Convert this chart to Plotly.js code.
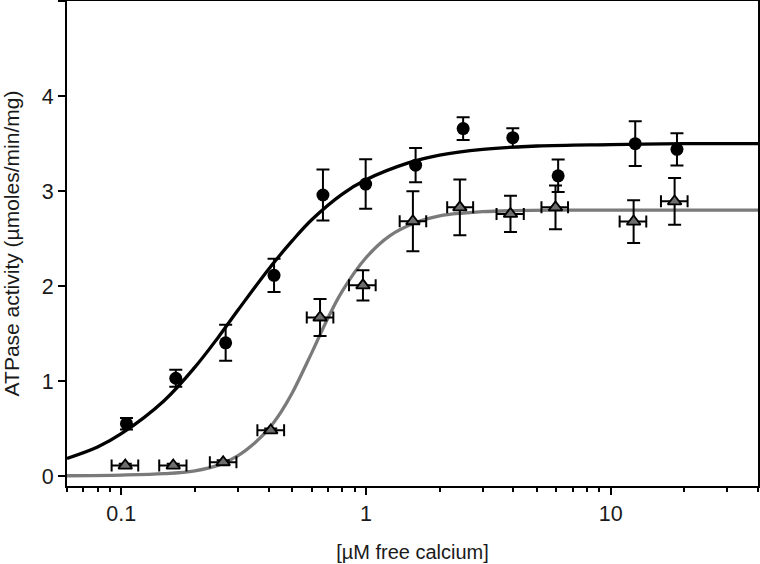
<!DOCTYPE html>
<html>
<head>
<meta charset="utf-8">
<script src="https://cdn.plot.ly/plotly-3.0.1.min.js"></script>
<style>html,body{margin:0;padding:0;background:#fff;}#chart{width:760px;height:564px;}</style>
</head>
<body>
<div id="chart"></div>
<script>
// Black circles (control)
var circX = [0.105, 0.167, 0.267, 0.421, 0.667, 0.997, 1.595, 2.495, 3.98, 6.10, 12.6, 18.66];
var circY = [0.555, 1.033, 1.406, 2.115, 2.96, 3.075, 3.274, 3.658, 3.563, 3.162, 3.50, 3.44];
var circYErr = [0.06, 0.09, 0.19, 0.175, 0.267, 0.26, 0.18, 0.12, 0.10, 0.17, 0.235, 0.17];

// Grey triangles
var triX = [0.1038, 0.163, 0.2608, 0.408, 0.649, 0.972, 1.555, 2.419, 3.895, 5.95, 12.41, 18.25];
var triY = [0.115, 0.115, 0.15, 0.485, 1.672, 2.01, 2.684, 2.83, 2.761, 2.83, 2.681, 2.893];
var triYErr = [0.02, 0.02, 0.02, 0.02, 0.195, 0.16, 0.315, 0.293, 0.19, 0.23, 0.225, 0.245];
var triXLo = [0.0913, 0.1429, 0.2301, 0.3599, 0.5728, 0.8524, 1.373, 2.147, 3.416, 5.213, 10.88, 16.05];
var triXHi = [0.1173, 0.1847, 0.2955, 0.4628, 0.7355, 1.0954, 1.7626, 2.741, 4.415, 6.694, 13.98, 20.62];

// Fitted curves
var blackFitX = [0.06, 0.08, 0.1, 0.15, 0.2, 0.25, 0.3, 0.4, 0.5, 0.6, 0.8, 1.0, 1.5, 2, 3, 5, 10, 20, 40];
var blackFitY = [0.19, 0.31, 0.45, 0.80, 1.15, 1.47, 1.75, 2.18, 2.48, 2.70, 2.97, 3.12, 3.30, 3.38, 3.44, 3.475, 3.49, 3.5, 3.5];
var greyFitX = [0.06, 0.1, 0.15, 0.2, 0.25, 0.3, 0.35, 0.4, 0.45, 0.5, 0.6, 0.7, 0.8, 1.0, 1.25, 1.6, 2, 2.5, 3, 4, 6, 10, 20, 40];
var greyFitY = [0.008, 0.015, 0.03, 0.06, 0.12, 0.22, 0.35, 0.50, 0.68, 0.88, 1.30, 1.67, 1.95, 2.30, 2.53, 2.67, 2.74, 2.77, 2.785, 2.795, 2.80, 2.80, 2.80, 2.80];

// Axis ticks
var xMajorTicks = [0.1, 1, 10];
var xMajorLabels = ['0.1', '1', '10'];
var xMinorTicks = [0.06, 0.07, 0.08, 0.09, 0.2, 0.3, 0.4, 0.5, 0.6, 0.7, 0.8, 0.9, 2, 3, 4, 5, 6, 7, 8, 9, 20, 30, 40];
var yTicks = [0, 1, 2, 3, 4, 5];
var yLabels = ['0', '1', '2', '3', '4', ''];

var triXPlus = triX.map(function (v, i) { return triXHi[i] - v; });
var triXMinus = triX.map(function (v, i) { return v - triXLo[i]; });

var FONT = 'Liberation Sans, Arial, Helvetica, sans-serif';
var TXT = '#1a1a1a';

var traces = [
  { x: blackFitX, y: blackFitY, type: 'scatter', mode: 'lines',
    line: { color: '#000000', width: 3.3, shape: 'spline', smoothing: 1 }, hoverinfo: 'skip' },
  { x: greyFitX, y: greyFitY, type: 'scatter', mode: 'lines',
    line: { color: '#7a7a7a', width: 3.3, shape: 'spline', smoothing: 1 }, hoverinfo: 'skip' },
  { x: circX, y: circY, type: 'scatter', mode: 'markers',
    marker: { symbol: 'circle', size: 13, color: '#000000' },
    error_y: { type: 'data', array: circYErr, visible: true, color: '#000000', thickness: 2, width: 6.5 } },
  { x: triX, y: triY, type: 'scatter', mode: 'markers',
    marker: { symbol: 'triangle-up', size: 12, color: '#6e6e6e', line: { color: '#000000', width: 1.8 } },
    error_y: { type: 'data', array: triYErr, visible: true, color: '#000000', thickness: 2, width: 6.5 },
    error_x: { type: 'data', array: triXPlus, arrayminus: triXMinus, symmetric: false, visible: true, color: '#000000', thickness: 2, width: 6 } }
];

var layout = {
  width: 760, height: 564,
  margin: { l: 67, r: 2, t: 1, b: 78 },
  paper_bgcolor: '#ffffff', plot_bgcolor: '#ffffff',
  showlegend: false,
  font: { family: FONT, color: TXT, size: 21 },
  xaxis: {
    type: 'log',
    range: [Math.log10(0.06), Math.log10(40)],
    tickmode: 'array', tickvals: xMajorTicks, ticktext: xMajorLabels,
    ticks: 'outside', ticklen: 7, tickwidth: 2, tickcolor: '#000',
    showline: true, linewidth: 2, linecolor: '#000', mirror: true,
    showgrid: false, zeroline: false,
    tickfont: { family: FONT, size: 21.5, color: TXT },
    minor: { tickmode: 'array', tickvals: xMinorTicks, ticks: 'outside', ticklen: 4, tickwidth: 2, tickcolor: '#000', showgrid: false },
    title: { text: '[µM free calcium]', font: { family: FONT, size: 20, color: TXT }, standoff: 20 }
  },
  yaxis: {
    range: [-0.1, 5],
    tickmode: 'array', tickvals: yTicks, ticktext: yLabels,
    ticks: 'outside', ticklen: 7, tickwidth: 2, tickcolor: '#000',
    showline: true, linewidth: 2, linecolor: '#000', mirror: true,
    showgrid: false, zeroline: false,
    tickfont: { family: FONT, size: 21.5, color: TXT },
    title: { text: 'ATPase activity (µmoles/min/mg)', font: { family: FONT, size: 21, color: TXT }, standoff: 16 }
  }
};

Plotly.newPlot('chart', traces, layout, { staticPlot: true, displayModeBar: false });
</script>
</body>
</html>
